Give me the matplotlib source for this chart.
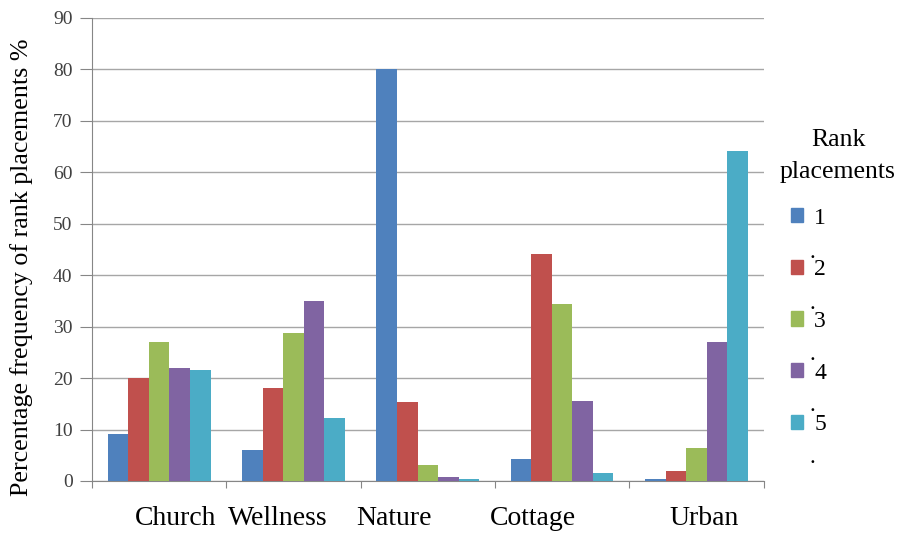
import numpy as np
import matplotlib.pyplot as plt
from matplotlib.patches import Patch

plt.rcParams['font.family'] = ['Liberation Serif', 'DejaVu Serif']

# data
categories = ['Church', 'Wellness', 'Nature', 'Cottage', 'Urban']
ranks = ['1', '2', '3', '4', '5']
rank1 = [9.1, 6.0, 80.1, 4.2, 0.3]
rank2 = [20.1, 18.1, 15.4, 44.2, 2.0]
rank3 = [27.0, 28.8, 3.2, 34.4, 6.5]
rank4 = [22.0, 34.9, 0.7, 15.6, 27.0]
rank5 = [21.5, 12.3, 0.3, 1.6, 64.2]
series = [rank1, rank2, rank3, rank4, rank5]
colors = ['#4F81BD', '#C0504D', '#9BBB59', '#8064A2', '#4BACC6']

# label positions (the category names are not centred under their groups)
label_x = [0.124, 0.882, 1.751, 2.784, 4.054]

fig = plt.figure(figsize=(9.05, 5.33), dpi=100)
ax = fig.add_axes([0.1017, 0.0976, 0.7420, 0.8687])

x = np.arange(len(categories))
w = 0.153
for k, vals in enumerate(series):
    ax.bar(x + (k - 2) * w, vals, width=w, color=colors[k], label=ranks[k], zorder=3)

ax.set_xlim(-0.5, 4.5)
ax.set_ylim(0, 90)
ax.set_yticks(range(0, 91, 10))
ax.yaxis.grid(True, color='#A6A6A6', linewidth=1.0, zorder=0)
ax.set_xticks(np.arange(-0.5, 4.6, 1.0))
ax.set_xticklabels([])
ax.tick_params(axis='x', length=5, color='#868686')
ax.tick_params(axis='y', length=9, color='#868686', labelsize=14, labelcolor='#404040', pad=5)
for s in ['top', 'right']:
    ax.spines[s].set_visible(False)
for s in ['left', 'bottom']:
    ax.spines[s].set_color('#868686')

for lx, name in zip(label_x, categories):
    ax.text(lx, -0.08, name, transform=ax.get_xaxis_transform(), ha='center', va='center', fontsize=20)

fig.text(22 / 905, 1 - 267 / 533, 'Percentage frequency of rank placements %',
         rotation=90, fontsize=18.7, ha='center', va='center')

# legend: title drawn separately so it can be centred over the entries
handles = [Patch(color=c) for c in colors]
leg = ax.legend(handles, ranks, loc='center left', bbox_to_anchor=(0.85, 0.397),
                bbox_transform=fig.transFigure, frameon=False, fontsize=17,
                labelspacing=1.3, handlelength=0.55, handleheight=0.55, handletextpad=0.45)
fig.text(0.926, 1 - 140 / 533, 'Rank', fontsize=18.5, ha='center', va='center')
fig.text(0.926, 1 - 172 / 533, 'placements', fontsize=18.5, ha='center', va='center')

# stray dots under each legend entry, as in the original
for i in range(5):
    fig.text(0.898, 1 - (252 + i * 51.3) / 533, '.', fontsize=17, ha='center', va='center')

fig.savefig('out.png', dpi=100)
